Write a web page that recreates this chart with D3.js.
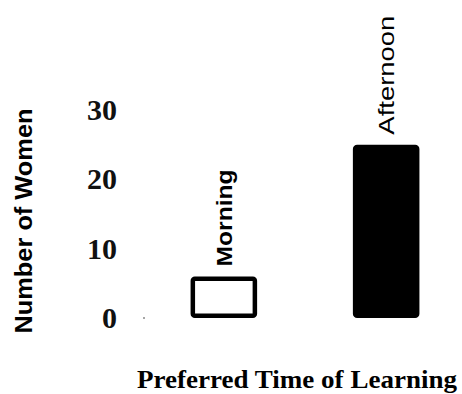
<!DOCTYPE html>
<html>
<head>
<meta charset="utf-8">
<script src="https://cdn.jsdelivr.net/npm/d3@7"></script>
<style>
  body { margin: 0; background: #fff; }
  svg { display: block; }
</style>
</head>
<body>
<svg id="chart" width="462" height="394"></svg>
<script>
// chart data
const categories = ["Morning", "Afternoon"];
const values = [6, 25];
const tickValues = [0, 10, 20, 30];
const yTitle = "Number of Women";
const xTitle = "Preferred Time of Learning";

const svg = d3.select("svg#chart");
const bounds = { minX: 150, maxX: 460, minY: 110, maxY: 318 };

const scaleX = d3.scaleBand()
    .domain(categories)
    .range([bounds.minX, bounds.maxX])
    .paddingInner(0.59)
    .paddingOuter(0.25);

const scaleY = d3.scaleLinear()
    .domain([0, 30])
    .range([bounds.maxY, bounds.minY]);

// y axis: labels only, no line
const yAxis = d3.axisLeft(scaleY).tickValues(tickValues).tickSize(0).tickPadding(28);
const axisG = svg.append("g")
    .attr("transform", `translate(${bounds.minX - 5} 0)`)
    .call(yAxis);
axisG.select(".domain").remove();
axisG.selectAll("text")
    .attr("font-family", "Liberation Serif, serif")
    .attr("font-weight", "bold")
    .attr("font-size", 30)
    .attr("fill", "#111");

// the small mark next to 0
svg.append("circle")
    .attr("cx", bounds.minX - 6)
    .attr("cy", scaleY(0))
    .attr("r", 1)
    .attr("fill", "#888");

// bars
const sw = 4.5;
svg.selectAll("rect.bar")
    .data(categories)
    .join("rect")
    .attr("class", "bar")
    .attr("x", d => scaleX(d) + sw / 2)
    .attr("y", (d, i) => scaleY(values[i]) + sw / 2)
    .attr("width", scaleX.bandwidth() - sw)
    .attr("height", (d, i) => scaleY(0) - scaleY(values[i]) - sw)
    .attr("rx", 2)
    .attr("fill", (d, i) => i === 0 ? "#fff" : "#000")
    .attr("stroke", "#000")
    .attr("stroke-width", sw);

// bar labels, rotated
const labelLen = [97, 119];
svg.selectAll("text.barlabel")
    .data(categories)
    .join("text")
    .attr("class", "barlabel")
    .attr("transform", (d, i) =>
        `translate(${scaleX(d) + scaleX.bandwidth() / 2 + 8} ${scaleY(values[i]) - 10}) rotate(-90)`)
    .attr("font-family", "Liberation Sans, Arial, sans-serif")
    .attr("font-weight", (d, i) => i === 0 ? "bold" : "normal")
    .attr("font-size", 22)
    .attr("textLength", (d, i) => labelLen[i])
    .attr("lengthAdjust", "spacingAndGlyphs")
    .attr("fill", "#000")
    .text(d => d);

// axis titles
svg.append("text")
    .attr("transform", "translate(32 221) rotate(-90)")
    .attr("text-anchor", "middle")
    .attr("font-family", "Liberation Sans Narrow, Liberation Sans, sans-serif")
    .attr("font-weight", "bold")
    .attr("font-size", 23)
    .attr("textLength", 225)
    .attr("lengthAdjust", "spacingAndGlyphs")
    .attr("fill", "#000")
    .text(yTitle);

svg.append("text")
    .attr("x", 297)
    .attr("y", 388)
    .attr("text-anchor", "middle")
    .attr("font-family", "Liberation Serif, serif")
    .attr("font-weight", "bold")
    .attr("font-size", 25)
    .attr("textLength", 320)
    .attr("lengthAdjust", "spacingAndGlyphs")
    .attr("fill", "#000")
    .text(xTitle);
</script>
</body>
</html>
